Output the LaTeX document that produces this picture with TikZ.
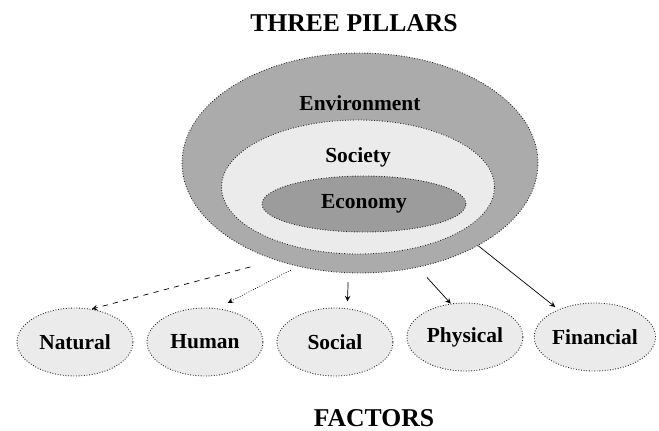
\documentclass[tikz,border=0pt]{standalone}
\usepackage{fontspec}
\setmainfont{Liberation Serif}
\usetikzlibrary{positioning,shapes.geometric}
\definecolor{envgray}{HTML}{ABABAB}
\definecolor{socgray}{HTML}{EBEBEB}
\definecolor{ecogray}{HTML}{9C9C9C}
\begin{document}
\begin{tikzpicture}[x=0.02cm, y=-0.02cm, node distance={26mm}, thin, >=stealth,
    pillar/.style = {draw=black!85, line width=0.5pt, densely dotted, ellipse, inner sep=0pt},
    factor/.style = {draw=black!85, line width=0.5pt, densely dotted, ellipse, fill=socgray, inner sep=0pt,
        minimum width=23.2mm, minimum height=13.6mm, font=\fontsize{12.2}{14}\selectfont\bfseries},
    word/.style = {font=\fontsize{12.2}{14}\selectfont\bfseries},
    title/.style = {font=\fontsize{14.6}{17}\selectfont\bfseries}]

    \useasboundingbox (0,0) rectangle (659,430);

    \node[title] (pillars) at (354,23) {THREE PILLARS};

    \node[pillar, fill=envgray, minimum width=71.2mm, minimum height=44mm] (env) at (360,163) {};
    \node[pillar, fill=socgray, minimum width=54.6mm, minimum height=26.8mm] (soc) at (358,187) {};
    \node[pillar, fill=ecogray, minimum width=40.8mm, minimum height=11.2mm, word] (eco) at (364,204) {Economy};
    \node[word] (envtext) at (360,103) {Environment};
    \node[word] (soctext) at (358,157) {Society};

    \node[factor] (natural) at (75,342) {Natural};
    \node[factor] (human) [right of=natural] {Human};
    \node[factor] (social) [right of=human] {Social};
    \node[factor] (physical) [right of=social, yshift=0.1cm] {Physical};
    \node[factor] (financial) [right of=physical] {Financial};

    \draw[->, dashed, shorten <=0.52cm] (env.229) -- (natural.63);
    \draw[->, densely dotted, shorten <=0.16cm, shorten >=0.24cm] (env.239) -- (human.70);
    \draw[->, shorten <=0.18cm, shorten >=0.14cm] (env.264) -- (social.70);
    \draw[->, shorten <=0.27cm] (env.299) -- (physical.113);
    \draw[->, shorten >=0.08cm] (env.325) -- (financial.143);

    \node[title] (factors) at (374,418) {FACTORS};

\end{tikzpicture}
\end{document}
